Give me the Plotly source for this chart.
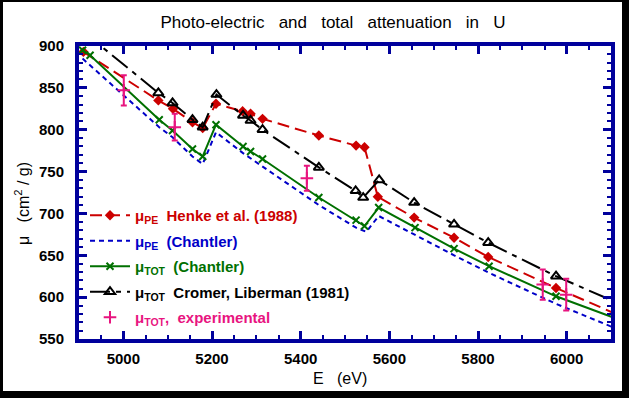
import plotly.graph_objects as go

# ---------------- data ----------------
henke_E = [4910, 5079, 5112, 5156, 5179, 5209, 5269, 5287, 5314, 5441, 5525, 5544, 5574, 5656, 5746, 5823, 5976, 6150]
henke_mu = [893, 835, 825, 809, 802, 831, 822, 819, 813, 793, 781, 779, 720, 695, 671, 648, 611, 571]

chantler_pe_E = [4908, 5081, 5111, 5156, 5179, 5209, 5270, 5314, 5441, 5525, 5548, 5576, 5658, 5746, 5825, 5976, 6150]
chantler_pe_mu = [885, 803, 791, 768, 759, 797, 772, 756, 710, 683, 678, 697, 674, 650, 629, 592, 554]

chantler_tot_E = [4908, 4925, 5081, 5111, 5156, 5179, 5209, 5270, 5287, 5314, 5441, 5525, 5544, 5576, 5658, 5746, 5825, 5976, 6150]
chantler_tot_mu = [895, 889, 812, 799, 777, 768, 806, 780, 774, 765, 719, 692, 685, 707, 683, 658, 637, 601, 567]

cromer_E = [4910, 5079, 5111, 5156, 5179, 5210, 5270, 5287, 5314, 5441, 5524, 5541, 5577, 5656, 5746, 5823, 5976, 6150]
cromer_mu = [917, 844, 832, 812, 803, 842, 817, 811, 800, 755, 727, 719, 740, 713, 687, 665, 625, 585]

exp_E = [5001, 5116, 5414, 5946, 5999]
exp_mu = [847, 803, 742, 615, 603]
exp_err = [18, 16, 15, 18, 19]

x_range = [4900, 6100]
y_range = [550, 900]

# ---------------- styling ----------------
RED = "#CC0000"
BLUE = "#0000C8"
GREEN = "#007000"
BLACK = "#000000"
MAGENTA = "#E8147F"
AXIS = "#00009C"
FONT = "Liberation Sans"

W, H = 629, 398
L, R, T, B = 79, 18, 46, 59

fig = go.Figure()

fig.add_trace(go.Scatter(
    x=henke_E, y=henke_mu, mode="lines+markers",
    name=f"<span style='color:{RED}'>μ<sub>PE</sub>  Henke et al. (1988)</span>",
    line=dict(color=RED, width=2, dash="12px,6px"),
    marker=dict(symbol="diamond", size=8, color=RED),
    legendgroup="a"))

fig.add_trace(go.Scatter(
    x=chantler_pe_E, y=chantler_pe_mu, mode="lines",
    name=f"<span style='color:{BLUE}'>μ<sub>PE</sub>  (Chantler)</span>",
    line=dict(color=BLUE, width=2, dash="5px,4px"),
    legendgroup="b"))

fig.add_trace(go.Scatter(
    x=chantler_tot_E, y=chantler_tot_mu, mode="lines+markers",
    name=f"<span style='color:{GREEN}'>μ<sub>TOT</sub>  (Chantler)</span>",
    line=dict(color=GREEN, width=2),
    marker=dict(symbol="x-thin-open", size=7, color=GREEN, line=dict(width=2, color=GREEN)),
    legendgroup="c"))

fig.add_trace(go.Scatter(
    x=cromer_E, y=cromer_mu, mode="lines+markers",
    name=f"<span style='color:{BLACK}'>μ<sub>TOT</sub>  Cromer, Liberman (1981)</span>",
    line=dict(color=BLACK, width=2, dash="20px,6px,5px,6px"),
    marker=dict(symbol="triangle-up-open", size=9, color=BLACK, line=dict(width=2, color=BLACK)),
    legendgroup="d"))

fig.add_trace(go.Scatter(
    x=exp_E, y=exp_mu, mode="markers",
    name=f"<span style='color:{MAGENTA}'>μ<sub>TOT</sub>,  experimental</span>",
    marker=dict(symbol="cross-thin-open", size=9, color=MAGENTA, line=dict(width=2, color=MAGENTA)),
    error_y=dict(type="data", array=exp_err, visible=True, color=MAGENTA, thickness=2, width=3),
    legendgroup="e"))

def px_x(p):
    return (p - L) / (W - L - R)

def px_y(p):
    return (H - B - p) / (H - T - B)

# black outer frame
frame = [(0, 0, 3, H), (W - 7, 0, W, H), (0, H - 7, W, H), (0, 0, W, 2)]
shapes = [dict(type="rect", xref="paper", yref="paper",
               x0=px_x(a), x1=px_x(c), y0=px_y(d), y1=px_y(b),
               fillcolor="black", line=dict(width=0), layer="above")
          for a, b, c, d in frame]

axis_common = dict(
    showgrid=False, zeroline=False, showline=True, linecolor=AXIS, linewidth=4,
    mirror="allticks", ticks="inside", tickcolor=AXIS, tickwidth=3, ticklen=8,
    automargin=False, layer="above traces",
    tickfont=dict(family=FONT, size=15, color="black", weight="bold"),
)

fig.update_layout(
    template="none",
    width=W, height=H,
    margin=dict(l=L, r=R, t=T, b=B, autoexpand=False),
    paper_bgcolor="white", plot_bgcolor="white",
    font=dict(family=FONT, color="black"),
    title=dict(text="Photo-electric&nbsp;&nbsp; and&nbsp;&nbsp; total&nbsp;&nbsp; attenuation&nbsp;&nbsp; in&nbsp;&nbsp; U",
               x=333 / W, xanchor="center", y=1 - 22 / H, yanchor="middle",
               font=dict(family=FONT, size=17, color="black")),
    xaxis=dict(range=x_range, tickmode="linear", tick0=5000, dtick=200,
               minor=dict(dtick=50, tick0=4900, ticks="inside", ticklen=4, tickwidth=2, tickcolor=AXIS, showgrid=False),
               ticklabelstandoff=3,
               **axis_common),
    yaxis=dict(range=y_range, tickmode="linear", tick0=550, dtick=50,
               minor=dict(dtick=10, tick0=550, ticks="inside", ticklen=4, tickwidth=2, tickcolor=AXIS, showgrid=False),
               ticklabelstandoff=8,
               **axis_common),
    legend=dict(x=px_x(85), y=px_y(199), xanchor="left", yanchor="top",
                bgcolor="rgba(0,0,0,0)", borderwidth=0,
                font=dict(family=FONT, size=15, weight="bold"),
                tracegroupgap=3, itemwidth=40, traceorder="grouped"),
    showlegend=True,
    shapes=shapes,
    annotations=[
        dict(text="E&nbsp;&nbsp; (eV)", xref="paper", yref="paper", x=px_x(340), y=px_y(378),
             xanchor="center", yanchor="middle", showarrow=False,
             font=dict(family=FONT, size=16, color="black")),
        dict(text="μ&nbsp;&nbsp; (cm<sup>2</sup> / g)", xref="paper", yref="paper", x=px_x(22), y=px_y(204),
             xanchor="center", yanchor="middle", showarrow=False, textangle=-90,
             font=dict(family=FONT, size=16, color="black")),
    ],
)

fig.write_html("out.html", config={"displayModeBar": False},
               post_script="document.body.style.margin='0';")
